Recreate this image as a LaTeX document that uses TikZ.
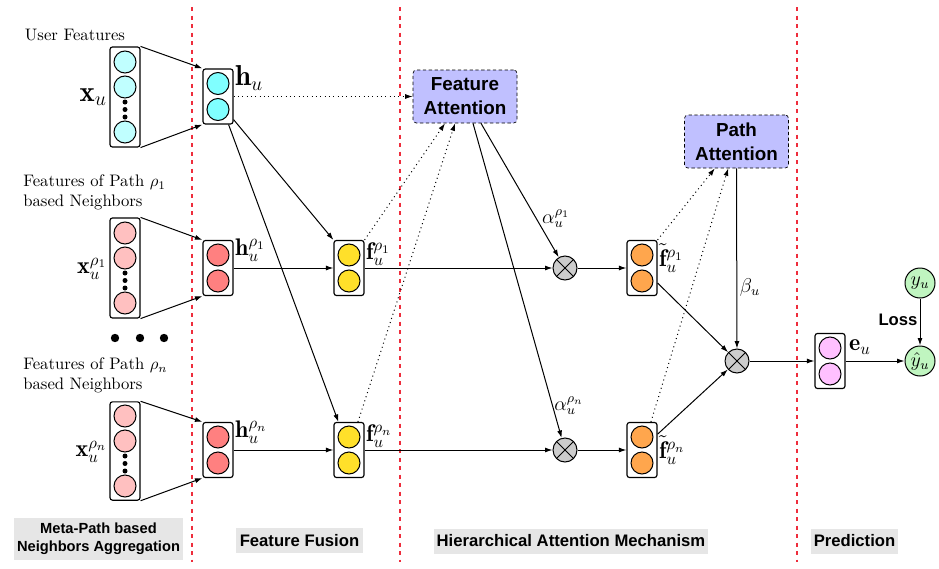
\documentclass[tikz,border=0pt]{standalone}
\usepackage{fontspec}
\newfontfamily\lab{Liberation Sans}
\usetikzlibrary{arrows.meta,calc}
\definecolor{cyanL}{HTML}{C0FFFF}
\definecolor{cyanD}{HTML}{80FFFF}
\definecolor{pinkL}{HTML}{FFC0C0}
\definecolor{redD}{HTML}{FF8080}
\definecolor{yel}{HTML}{FFE02A}
\definecolor{ora}{HTML}{FFA64D}
\definecolor{mag}{HTML}{FFC0FF}
\definecolor{grn}{HTML}{C0F5C0}
\definecolor{lav}{HTML}{C0C0FF}
\definecolor{redline}{HTML}{EE2D3C}
\definecolor{labgray}{HTML}{E6E6E6}
\newcommand{\twocell}[2]{%
  \node[cell,fill=#2] (#1c1) at ($(#1)+(0,-13)$) {};
  \node[cell,fill=#2] (#1c2) at ($(#1)+(0,13)$) {};}
\newcommand{\fourcell}[2]{%
  \node[cell,fill=#2] (#1c1) at ($(#1)+(0,-35)$) {};
  \node[cell,fill=#2] (#1c2) at ($(#1)+(0,-10)$) {};
  \node[cell,fill=#2] (#1c3) at ($(#1)+(0,35)$) {};
  \foreach \d in {5,12.5,20} \fill ($(#1)+(0,\d)$) circle (2.5);}
\begin{document}
\begin{tikzpicture}[x=0.6pt,y=-0.6pt,
  vbox/.style={draw, rounded corners=1.5pt, line width=0.7pt, minimum width=18pt, inner sep=0pt},
  cell/.style={circle, draw, line width=0.6pt, minimum size=13.2pt, inner sep=0pt},
  arr/.style={-{Latex[length=4.5pt,width=3pt]}, line width=0.6pt},
  dotarr/.style={arr, dotted},
  otimes/.style={circle, draw, fill=gray!40, minimum size=14.4pt, inner sep=0pt, line width=0.6pt,
    path picture={\draw[line width=0.6pt] (path picture bounding box.north west)--(path picture bounding box.south east)
      (path picture bounding box.north east)--(path picture bounding box.south west);}},
  attn/.style={draw, dash pattern=on 2pt off 1.5pt, fill=lav, rounded corners=2pt, minimum width=62.4pt,
    minimum height=31.8pt, align=center, inner sep=0pt, font=\lab\bfseries\fontsize{11.3}{14.5}\selectfont},
  glab/.style={fill=labgray, inner xsep=1.5pt, inner ysep=0pt, minimum height=15pt, align=center,
    font=\lab\bfseries\fontsize{10}{12}\selectfont},
  redsep/.style={redline, line width=1.5pt, dash pattern=on 2.4pt off 2.7pt},
  mlab/.style={inner sep=0.5pt}
]
\useasboundingbox (0,0) rectangle (939,568);

% separators
\draw[redsep] (192,7) -- (192,562);
\draw[redsep] (400,7) -- (400,562);
\draw[redsep] (797,7) -- (797,562);

% input vectors
\node[vbox, minimum height=60pt] (xu) at (125,97) {};
\fourcell{xu}{cyanL}
\node[vbox, minimum height=60pt] (xa) at (125,268) {};
\fourcell{xa}{pinkL}
\node[vbox, minimum height=59pt] (xn) at (125,451) {};
\fourcell{xn}{pinkL}

% h vectors
\node[vbox, minimum height=33pt] (hu) at (218,96.5) {};
\twocell{hu}{cyanD}
\node[vbox, minimum height=33pt] (ha) at (218,268) {};
\twocell{ha}{redD}
\node[vbox, minimum height=33pt] (hn) at (218,450) {};
\twocell{hn}{redD}

% f vectors
\node[vbox, minimum height=33pt] (fa) at (349,268) {};
\twocell{fa}{yel}
\node[vbox, minimum height=33pt] (fn) at (349,450) {};
\twocell{fn}{yel}

% f tilde vectors
\node[vbox, minimum height=33pt] (ta) at (642,268) {};
\twocell{ta}{ora}
\node[vbox, minimum height=33pt] (tn) at (642,450) {};
\twocell{tn}{ora}

% e vector
\node[vbox, minimum height=33pt] (eu) at (830,361) {};
\twocell{eu}{mag}

% attention boxes
\node[attn] (FA) at (465,96.5) {Feature\\Attention};
\node[attn] (PA) at (736.5,141.5) {Path\\Attention};

% products
\node[otimes] (oa) at (565,268) {};
\node[otimes] (on) at (565,450) {};
\node[otimes] (of) at (737,361) {};

% outputs
\node[circle, draw, line width=0.6pt, fill=grn, minimum size=18pt, inner sep=0pt] (yu) at (920,283) {\large $y_u$};
\node[circle, draw, line width=0.6pt, fill=grn, minimum size=18pt, inner sep=0pt] (yh) at (920,361) {\large $\hat{y}_u$};

% dots between paths
\fill (115,338) circle (4.2);
\fill (140,338) circle (4.2);
\fill (164,338) circle (4.2);

% text labels
\node (tuser) at (75,35) {User Features};
\node[align=left, anchor=west, inner sep=0pt] (tpa) at (23,192.5) {Features of Path $\rho_1$\\based Neighbors};
\node[align=left, anchor=west, inner sep=0pt] (tpn) at (23,375.5) {Features of Path $\rho_n$\\based Neighbors};

\node[mlab, anchor=east] (lxu) at (108,97) {\LARGE $\mathbf{x}_u$};
\node[mlab, anchor=east] (lxa) at (108,269) {\Large $\mathbf{x}_u^{\rho_1}$};
\node[mlab, anchor=east] (lxn) at (108,452) {\Large $\mathbf{x}_u^{\rho_n}$};
\node[mlab, anchor=west] (lhu) at (234,78) {\LARGE $\mathbf{h}_u$};
\node[mlab, anchor=west] (lha) at (234,250) {\Large $\mathbf{h}_u^{\rho_1}$};
\node[mlab, anchor=west] (lhn) at (234,432) {\Large $\mathbf{h}_u^{\rho_n}$};
\node[mlab, anchor=west] (lfa) at (365,254) {\Large $\mathbf{f}_u^{\rho_1}$};
\node[mlab, anchor=west] (lfn) at (365,436) {\Large $\mathbf{f}_u^{\rho_n}$};
\node[mlab, anchor=west] (lta) at (658,258) {\Large $\tilde{\mathbf{f}}_u^{\rho_1}$};
\node[mlab, anchor=west] (ltn) at (658,450) {\Large $\tilde{\mathbf{f}}_u^{\rho_n}$};
\node[mlab, anchor=west] (leu) at (848,347) {\Large $\mathbf{e}_u$};
\node (laa) at (556,219) {\large $\alpha_u^{\rho_1}$};
\node (lan) at (569,406) {\large $\alpha_u^{\rho_n}$};
\node (lb) at (750,287) {\large $\beta_u$};
\node[font=\lab\bfseries\fontsize{10}{12}\selectfont, inner sep=0pt] (lloss) at (898,320) {Loss};

% bottom labels
\node[glab, minimum width=101pt, minimum height=25pt, font=\lab\bfseries\fontsize{8.8}{10.8}\selectfont] (gmeta) at (98.5,539) {Meta-Path based\\Neighbors Aggregation};
\node[glab, minimum width=76pt] (gff) at (299.5,540.5) {Feature Fusion};
\node[glab, minimum width=162pt] (gham) at (571,541) {Hierarchical Attention Mechanism};
\node[glab, minimum width=51pt] (gpred) at (854.5,541) {Prediction};

% connectors: aggregation
\draw[arr] (xu.north east) -- (hu.north west);
\draw[arr] (xu.south east) -- (hu.south west);
\draw[arr] (xa.north east) -- (ha.north west);
\draw[arr] (xa.south east) -- (ha.south west);
\draw[arr] (xn.north east) -- (hn.north west);
\draw[arr] (xn.south east) -- (hn.south west);

% fusion
\draw[arr] (ha.east) -- (fa.west);
\draw[arr] (hn.east) -- (fn.west);
\draw[arr] ([yshift=3pt]hu.south east) -- (fa.north west);
\draw[arr] ([xshift=-3pt]hu.south east) -- ([xshift=3pt]fn.north west);
\draw[dotarr] (hu.east) -- (FA.west);

% feature attention
\draw[dotarr] (fa.north east) -- ([xshift=-12pt]FA.south);
\draw[dotarr] ([xshift=-4pt]fn.north east) -- ([xshift=-6pt]FA.south);
\draw[arr] ([xshift=9.6pt]FA.south) -- (oa);
\draw[arr] ([xshift=4.8pt]FA.south) -- (on);
\draw[arr] (fa.east) -- (oa);
\draw[arr] (fn.east) -- (on);
\draw[arr] (oa) -- (ta.west);
\draw[arr] (on) -- (tn.west);

% path attention
\draw[dotarr] (ta.north east) -- ([xshift=-13pt]PA.south);
\draw[dotarr] ([xshift=-4pt]tn.north east) -- ([xshift=-5pt]PA.south);
\draw[arr] (PA.south) -- (of);
\draw[arr] ([yshift=-9pt]ta.east) -- (of);
\draw[arr] ([yshift=9.5pt]tn.east) -- (of);

% prediction
\draw[arr] (of) -- (eu.west);
\draw[arr] (eu.east) -- (yh.west);
\draw[arr] (yu) -- (yh);
\end{tikzpicture}
\end{document}
